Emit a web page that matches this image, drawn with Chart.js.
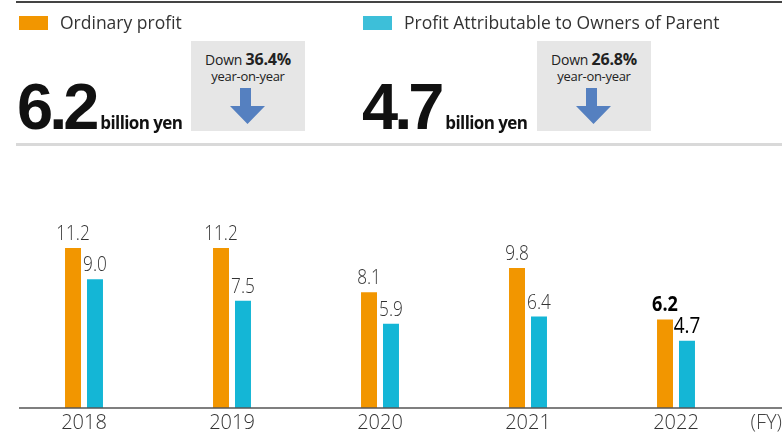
<!DOCTYPE html>
<html>
<head>
<meta charset="utf-8">
<script src="https://cdn.jsdelivr.net/npm/chart.js@4/dist/chart.umd.min.js"></script>
<style>
  html, body { margin: 0; padding: 0; background: #fff; }
  #wrap { position: relative; width: 782px; height: 433px; overflow: hidden; font-family: "Open Sans", "Noto Sans", sans-serif; color: #333; }
  #chart { position: absolute; left: 0; top: 0; }
  .rule-top { position: absolute; left: 16px; right: 0; top: 1px; height: 2px; background: #444; }
  .rule-mid { position: absolute; left: 16px; right: 0; top: 143px; height: 3px; background: #d9d9d9; }
  .swatch { position: absolute; top: 16px; width: 29px; height: 14px; }
  .legend-text { position: absolute; top: 10px; font-size: 17.5px; line-height: 24px; color: #333; white-space: nowrap; }
  .big { position: absolute; top: 69px; font-family: "Liberation Sans", sans-serif; font-weight: bold; font-size: 65px; line-height: 76px; color: #111; letter-spacing: -4px; white-space: nowrap; }
  .unit { font-family: "Open Sans", sans-serif; font-size: 17px; letter-spacing: -0.6px; margin-left: 5px; }
  .box { position: absolute; top: 41px; width: 114px; height: 90px; background: #e6e6e6; text-align: center; }
  .box .l1 { margin-top: 9px; font-size: 14px; line-height: 18px; color: #222; letter-spacing: -0.2px; }
  .box .l1 b { font-size: 16px; }
  .box .l2 { font-size: 13px; line-height: 15px; color: #222; letter-spacing: -0.3px; }
  .box svg { position: absolute; left: 39px; top: 47px; }
</style>
</head>
<body>
<div id="wrap">
  <canvas id="chart" width="782" height="433"></canvas>
  <div class="rule-top"></div>
  <div class="swatch" style="left:19px;background:#F29600"></div>
  <div class="legend-text" id="leg0" style="left:60px"></div>
  <div class="swatch" style="left:363px;background:#3DBFD9"></div>
  <div class="legend-text" id="leg1" style="left:404px"></div>

  <div class="big" id="big0" style="left:17px"></div>
  <div class="box" style="left:191px">
    <div class="l1">Down <b id="pct0"></b></div>
    <div class="l2">year-on-year</div>
    <svg width="36" height="37"><polygon points="10,0 21,0 21,18 35,18 17.5,36 0,18 10,18" fill="#5580C0"/></svg>
  </div>

  <div class="big" id="big1" style="left:362px"></div>
  <div class="box" style="left:537px">
    <div class="l1">Down <b id="pct1"></b></div>
    <div class="l2">year-on-year</div>
    <svg width="36" height="37"><polygon points="10,0 21,0 21,18 35,18 17.5,36 0,18 10,18" fill="#5580C0"/></svg>
  </div>
  <div class="rule-mid"></div>
</div>

<script>
// Fiscal years and values (billion yen)
const years = ['2018', '2019', '2020', '2021', '2022'];
const ordinaryProfit = [11.2, 11.2, 8.1, 9.8, 6.2];
const ownersProfit = [9.0, 7.5, 5.9, 6.4, 4.7];
const seriesNames = ['Ordinary profit', 'Profit Attributable to Owners of Parent'];
const yoyDown = ['36.4%', '26.8%'];

const ORANGE = '#F29600';
const CYAN = '#14B6D6';

// header texts
document.getElementById('leg0').textContent = seriesNames[0];
document.getElementById('leg1').textContent = seriesNames[1];
document.getElementById('pct0').textContent = yoyDown[0];
document.getElementById('pct1').textContent = yoyDown[1];
const last = years.length - 1;
document.getElementById('big0').innerHTML = ordinaryProfit[last].toFixed(1) + '<span class="unit">billion yen</span>';
document.getElementById('big1').innerHTML = ownersProfit[last].toFixed(1) + '<span class="unit">billion yen</span>';

// value labels above bars, latest year emphasised
const valueLabels = {
    id: 'valueLabels',
    afterDatasetsDraw(chart) {
        const ctx = chart.ctx;
        ctx.save();
        ctx.textAlign = 'center';
        ctx.textBaseline = 'alphabetic';
        chart.data.datasets.forEach((ds, di) => {
            chart.getDatasetMeta(di).data.forEach((bar, i) => {
                const latest = i === last;
                let font = '300 20px';
                if (latest) font = di === 0 ? '700 21px' : '400 22px';
                ctx.font = font + ' "Open Sans", sans-serif';
                ctx.fillStyle = latest ? '#000' : '#333';
                ctx.save();
                ctx.translate(bar.x, bar.y - 8);
                ctx.scale(0.86, 1);
                ctx.fillText(ds.data[i].toFixed(1), 0, 0);
                ctx.restore();
            });
        });
        ctx.restore();
    }
};

// base line across the plot and the (FY) note
const baseLine = {
    id: 'baseLine',
    afterDraw(chart) {
        const ctx = chart.ctx;
        const y = chart.scales.y.getPixelForValue(0);
        ctx.save();
        ctx.strokeStyle = '#555';
        ctx.lineWidth = 1.5;
        ctx.beginPath();
        ctx.moveTo(19, y);
        ctx.lineTo(chart.width, y);
        ctx.stroke();
        ctx.fillStyle = '#444';
        ctx.font = '300 20px "Open Sans", sans-serif';
        ctx.textAlign = 'right';
        ctx.textBaseline = 'middle';
        ctx.fillText('(FY)', chart.width, y + 15);
        ctx.restore();
    }
};

new Chart(document.getElementById('chart'), {
    type: 'bar',
    data: {
        labels: years,
        datasets: [{
            label: seriesNames[0],
            data: ordinaryProfit,
            backgroundColor: ORANGE
        }, {
            label: seriesNames[1],
            data: ownersProfit,
            backgroundColor: CYAN
        }]
    },
    options: {
        responsive: false,
        animation: false,
        categoryPercentage: 0.297,
        barPercentage: 0.727,
        layout: {
            padding: { left: 10, right: 32, top: 165, bottom: 0 }
        },
        plugins: {
            legend: { display: false },
            tooltip: { enabled: false }
        },
        scales: {
            x: {
                grid: { display: false, drawTicks: false },
                border: { display: false },
                ticks: {
                    color: '#333',
                    padding: 3,
                    font: { family: '"Open Sans", sans-serif', size: 20, weight: 300 }
                },
                afterFit: scale => { scale.height = 25; }
            },
            y: {
                display: false,
                min: 0,
                max: 17
            }
        }
    },
    plugins: [valueLabels, baseLine]
});
</script>
</body>
</html>
